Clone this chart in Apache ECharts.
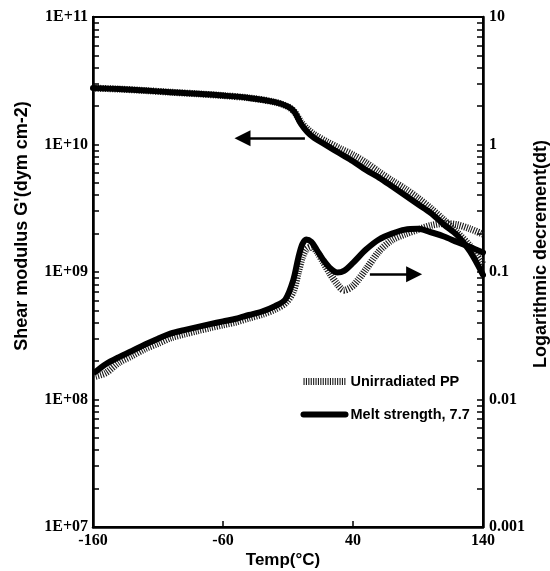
<!DOCTYPE html>
<html>
<head>
<meta charset="utf-8">
<script src="https://cdn.jsdelivr.net/npm/echarts@6/dist/echarts.min.js"></script>
<style>
html,body{margin:0;padding:0;background:#fff;}
#chart{width:550px;height:571px;}
</style>
</head>
<body>
<div id="chart"></div>
<script>
// ---- data ----
var gTemp = [-160,-140,-120,-100,-80,-60,-40,-20,-10,-5,0,5,10,20,30,40,50,60,70,80,90,100,110,120,130,140];
var gMelt = [2.77e10,2.72e10,2.65e10,2.57e10,2.5e10,2.42e10,2.32e10,2.15e10,1.98e10,1.8e10,1.45e10,1.25e10,1.13e10,9.8e9,8.5e9,7.4e9,6.3e9,5.5e9,4.7e9,4.0e9,3.4e9,2.9e9,2.35e9,1.95e9,1.45e9,9.5e8];
var gUnirr = [2.77e10,2.72e10,2.65e10,2.57e10,2.5e10,2.42e10,2.32e10,2.15e10,1.98e10,1.8e10,1.5e10,1.32e10,1.2e10,1.05e10,9.3e9,8.3e9,7.2e9,6.1e9,5.2e9,4.5e9,3.8e9,3.15e9,2.55e9,2.05e9,1.6e9,1.15e9];

var dtTemp = [-158,-150,-140,-130,-120,-110,-100,-90,-80,-70,-60,-50,-40,-30,-20,-12,-6,-2,1,4,8,12,17,22,28,33,40,50,60,70,80,90,100,110,120,130,140];
var dtMelt = [0.0165,0.019,0.0215,0.024,0.027,0.030,0.033,0.035,0.037,0.039,0.041,0.043,0.046,0.049,0.054,0.061,0.086,0.13,0.165,0.18,0.172,0.15,0.125,0.108,0.099,0.102,0.118,0.15,0.18,0.2,0.215,0.218,0.205,0.19,0.172,0.157,0.142];
var dtUnirr = [0.0152,0.0162,0.0195,0.022,0.025,0.0275,0.0305,0.0325,0.0345,0.0365,0.0385,0.0405,0.0435,0.0465,0.051,0.057,0.07,0.1,0.13,0.15,0.157,0.145,0.12,0.098,0.08,0.072,0.078,0.105,0.145,0.178,0.198,0.215,0.232,0.24,0.235,0.218,0.198];

var xTickLabels = [-160,-60,40,140];
var leftTickValues = [1e7,1e8,1e9,1e10,1e11];
var leftTickLabels = ['1E+07','1E+08','1E+09','1E+10','1E+11'];
var rightTickValues = [0.001,0.01,0.1,1,10];
var rightTickLabels = ['0.001','0.01','0.1','1','10'];

var legendNames = ['Unirradiated PP','Melt strength, 7.7'];

// arrows (annotations, in data space)
var leftArrow = {from:[3, 1.12e10], to:[-45, 1.12e10]};
var rightArrow = {from:[53, 0.096], to:[87, 0.096]};

// ---- helpers ----
function pairs(xs, ys){ return xs.map(function(x,i){return [x, ys[i]];}); }
function minorTicks(decades){
  var out = [];
  decades.forEach(function(d, i){
    if (i === decades.length - 1) { out.push(d); return; }
    for (var k = 1; k <= 9; k++) out.push(k * d);
  });
  return out;
}
function labelFor(values, labels){
  return function(v){
    for (var i = 0; i < values.length; i++) {
      if (Math.abs(Math.log10(v) - Math.log10(values[i])) < 1e-6) return labels[i];
    }
    return '';
  };
}

var serifLabel = {fontFamily:'Liberation Serif', fontWeight:'bold', fontSize:16, color:'#000'};
var hatchStyle = {color:'#1a1a1a', width:7, type:[1.1,1.3], cap:'butt'};
var solidStyle = {color:'#000', width:6, cap:'round', join:'round'};
var arrowMark = function(a){
  return {silent:true, symbol:['none','triangle'], symbolSize:16,
    label:{show:false}, emphasis:{disabled:true},
    lineStyle:{color:'#000', width:2.5, type:'solid'},
    data:[[{coord:a.from}, {coord:a.to}]]};
};
var titleFont = {fontFamily:'Liberation Sans', fontWeight:'bold', fill:'#000', align:'center', verticalAlign:'middle'};

var chart = echarts.init(document.getElementById('chart'), null, {renderer:'canvas'});
chart.setOption({
  animation:false,
  backgroundColor:'#fff',
  grid:{left:93, right:67, top:17, bottom:44, show:true, borderColor:'#000', borderWidth:2, backgroundColor:'transparent'},
  legend:{
    orient:'vertical', left:295, top:369, itemWidth:42, itemHeight:14, itemGap:18,
    data:legendNames, selectedMode:false,
    textStyle:{fontFamily:'Liberation Sans', fontWeight:'bold', fontSize:14.5, color:'#000'},
    lineStyle:{width:'inherit', type:'inherit'},
    itemStyle:{opacity:0}
  },
  xAxis:{
    type:'value', min:-160, max:140,
    axisLine:{onZero:false, lineStyle:{color:'#000', width:2.5}},
    axisTick:{inside:true, length:6, customValues:[-60,40], lineStyle:{color:'#000', width:1.5}},
    axisLabel:Object.assign({margin:6, customValues:xTickLabels}, serifLabel),
    splitLine:{show:false}
  },
  yAxis:[
    {
      type:'log', logBase:10, min:1e7, max:1e11, position:'left',
      axisLine:{show:true, onZero:false, lineStyle:{color:'#000', width:2.5}},
      axisTick:{inside:true, length:6, customValues:minorTicks(leftTickValues), lineStyle:{color:'#000', width:1.5}},
      axisLabel:Object.assign({margin:5, customValues:leftTickValues, formatter:labelFor(leftTickValues, leftTickLabels)}, serifLabel),
      splitLine:{show:false}, minorTick:{show:false}
    },
    {
      type:'log', logBase:10, min:0.001, max:10, position:'right',
      axisLine:{show:true, onZero:false, lineStyle:{color:'#000', width:2.5}},
      axisTick:{inside:true, length:6, customValues:minorTicks(rightTickValues), lineStyle:{color:'#000', width:1.5}},
      axisLabel:Object.assign({margin:6, customValues:rightTickValues, formatter:labelFor(rightTickValues, rightTickLabels)}, serifLabel),
      splitLine:{show:false}, minorTick:{show:false}
    }
  ],
  graphic:[
    {type:'text', x:22, y:226, rotation:Math.PI/2,
     style:Object.assign({text:"Shear modulus G'(dym cm-2)", fontSize:18}, titleFont)},
    {type:'text', x:541, y:254, rotation:Math.PI/2,
     style:Object.assign({text:'Logarithmic decrement(dt)', fontSize:18}, titleFont)},
    {type:'text', x:283, y:560,
     style:Object.assign({text:'Temp(°C)', fontSize:17}, titleFont)}
  ],
  series:[
    {name:legendNames[0], type:'line', yAxisIndex:0, data:pairs(gTemp, gUnirr), showSymbol:false, symbol:'none', smooth:0.3, lineStyle:hatchStyle, z:2, silent:true},
    {name:legendNames[0], type:'line', yAxisIndex:1, data:pairs(dtTemp, dtUnirr), showSymbol:false, symbol:'none', smooth:0.3, lineStyle:hatchStyle, z:2, silent:true},
    {name:legendNames[1], type:'line', yAxisIndex:0, data:pairs(gTemp, gMelt), showSymbol:false, symbol:'none', smooth:0.3, lineStyle:solidStyle, z:3, silent:true,
     markLine:arrowMark(leftArrow)},
    {name:legendNames[1], type:'line', yAxisIndex:1, data:pairs(dtTemp, dtMelt), showSymbol:false, symbol:'none', smooth:0.3, lineStyle:solidStyle, z:3, silent:true,
     markLine:arrowMark(rightArrow)}
  ]
});
</script>
</body>
</html>
